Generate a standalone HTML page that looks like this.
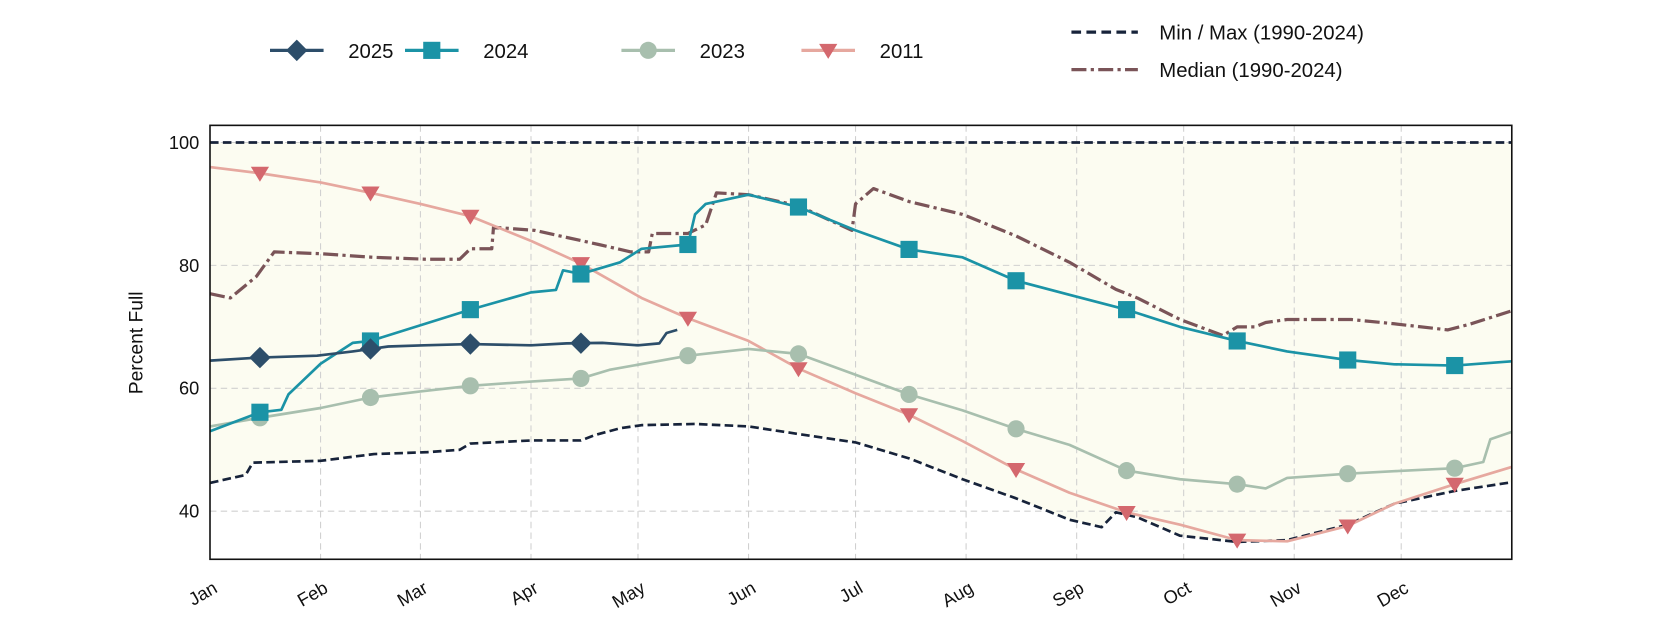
<!DOCTYPE html>
<html><head><meta charset="utf-8"><style>
body{margin:0;background:#fff;font-family:"Liberation Sans",sans-serif;}
svg text{font-family:"Liberation Sans",sans-serif;fill:#111;}
</style></head><body>
<svg id="chart" width="1680" height="630" viewBox="0 0 1568 588" xmlns="http://www.w3.org/2000/svg">
<g id="legend"></g>
<g id="plot"></g>
</svg>
<script>
const monthLabels=["Jan","Feb","Mar","Apr","May","Jun","Jul","Aug","Sep","Oct","Nov","Dec"];
const monthStartDays=[0,31,59,90,120,151,181,212,243,273,304,334];
const yTicks=[40,60,80,100];
const markerDays=[14,45,73,104,134,165,196,226,257,288,319,349];
const d2025=[0,14,30,40,50,60,73,90,100,110,120,126,128,131];
const v2025=[64.5,65,65.3,66,66.8,67,67.2,67,67.3,67.4,67,67.3,69,69.5];
const d2024=[0,14,20,22,31,40,45,73,90,97,99,104,115,121,134,136,139,151,165,181,196,211,226,241,257,272,288,302,319,332,349,365];
const v2024=[53,56.1,56.5,59,64,67.4,67.7,72.8,75.6,76,79.2,78.6,80.5,82.7,83.4,88.3,90,91.5,89.5,85.7,82.6,81.3,77.5,75.2,72.8,70,67.7,66,64.6,63.9,63.7,64.4];
const d2023=[0,14,31,45,59,73,90,104,112,134,151,165,181,196,211,226,241,257,272,288,296,302,319,332,349,357,359,365];
const v2023=[53.8,55.2,56.8,58.5,59.5,60.4,61.1,61.6,63,65.3,66.4,65.6,62.2,59,56.4,53.4,50.8,46.6,45.2,44.4,43.7,45.4,46.1,46.5,47,48,51.7,52.9];
const d2011=[0,14,31,45,59,73,90,104,121,134,151,165,181,196,211,226,241,257,272,288,302,319,332,349,365];
const v2011=[96,95,93.5,91.8,90,88,84,80.3,74.7,71.4,67.7,63.2,59.2,55.7,51.4,46.8,43,39.8,37.8,35.3,35.1,37.6,41.2,44.4,47.2];
const dMin=[0,10,12,31,46,61,70,73,90,104,108,115,121,136,151,169,181,196,211,226,241,250,254,260,272,288,302,319,332,349,365];
const vMin=[44.6,45.9,47.9,48.2,49.3,49.6,50,51,51.5,51.5,52.4,53.5,54,54.2,53.8,52.2,51.2,48.6,45.2,42.1,38.6,37.4,39.8,39,36,35,35.3,37.8,41.2,43.3,44.7];
const dMed=[0,5.7,13,18,31,46,61,70,73,79,79.5,91,109,118,123,124,134,139,142,151,165,180,181,186,196,211,226,241,254,260,272,284,288,293,296,302,320,332,347,353,365];
const vMed=[75.4,74.7,78.2,82.2,81.9,81.3,81,81,82.7,82.7,86.2,85.7,83.4,82.2,82.2,85.2,85.2,86.6,91.8,91.5,89.7,85.7,90,92.5,90.4,88.3,84.8,80.5,76.1,74.7,71.2,68.6,70,70,70.7,71.2,71.2,70.5,69.5,70.4,72.6];
const maxVal=100;

const NS="http://www.w3.org/2000/svg";
const L=196,R=1411,T=117,B=522;
const x=d=>L+d*(R-L)/365;
const y=v=>133+(100-v)*5.735;
function mk(tag,attrs,parent){const e=document.createElementNS(NS,tag);for(const k in attrs)e.setAttribute(k,attrs[k]);parent.appendChild(e);return e;}
const plot=document.getElementById('plot');
const leg=document.getElementById('legend');
function interp(ds,vs,d){for(let i=1;i<ds.length;i++){if(d<=ds[i]){const t=(d-ds[i-1])/(ds[i]-ds[i-1]);return vs[i-1]+t*(vs[i]-vs[i-1]);}}return vs[vs.length-1];}
function pts(ds,vs){return ds.map((d,i)=>x(d).toFixed(1)+','+y(vs[i]).toFixed(1)).join(' ');}

let bg=mk('rect',{x:L,y:T,width:R-L,height:B-T,fill:'#fff'},plot);


let band=mk('polygon',{points:pts(dMin,vMin)+' '+x(365)+','+y(maxVal)+' '+x(0)+','+y(maxVal),fill:'#fcfcf1'},plot);


monthStartDays.forEach((d,i)=>{
  if(i>0){let g=mk('line',{x1:x(d),x2:x(d),y1:T,y2:B,stroke:'#d0d0d0','stroke-dasharray':'6,4','stroke-width':1},plot);
  
  }
  let t=mk('text',{x:x(d)+8,y:B+30,'font-size':17,'text-anchor':'end',transform:`rotate(-30 ${x(d)+8} ${B+30})`},plot);
  t.textContent=monthLabels[i];
  
  
});
yTicks.forEach(v=>{
  let g=mk('line',{x1:L,x2:R,y1:y(v),y2:y(v),stroke:'#d0d0d0','stroke-dasharray':'6,4','stroke-width':1},plot);
  
  
  let t=mk('text',{x:L-10,y:y(v)+6,'font-size':17,'text-anchor':'end'},plot);
  t.textContent=v;
  
  
});
let yt=mk('text',{x:133,y:320,'font-size':18,'text-anchor':'middle',transform:'rotate(-90 133 320)'},plot);
yt.textContent='Percent Full';



function line(ds,vs,color,w,dash,name){
  let p=mk('polyline',{points:pts(ds,vs),fill:'none',stroke:color,'stroke-width':w,'stroke-linejoin':'round'},plot);
  if(dash)p.setAttribute('stroke-dasharray',dash);
  
  
}
function marker(shape,cx,cy,color,parent,s){
  let e;
  if(shape==='diamond')e=mk('polygon',{points:`${cx},${cy-s} ${cx+s},${cy} ${cx},${cy+s} ${cx-s},${cy}`,fill:color},parent);
  else if(shape==='square')e=mk('rect',{x:cx-s*0.8,y:cy-s*0.8,width:s*1.6,height:s*1.6,fill:color},parent);
  else if(shape==='circle')e=mk('circle',{cx:cx,cy:cy,r:s*0.8,fill:color},parent);
  else e=mk('polygon',{points:`${cx-s*0.85},${cy-s*0.6} ${cx+s*0.85},${cy-s*0.6} ${cx},${cy+s*0.8}`,fill:color},parent);
  return e;
}
line(dMin,vMin,'#17233a',2.5,'8,4','min-line');
let mx=mk('line',{x1:L,x2:R,y1:y(maxVal),y2:y(maxVal),stroke:'#17233a','stroke-width':2.5,'stroke-dasharray':'8,4'},plot);


line(dMed,vMed,'#7a5458',3,'14,4,3,4','median-line');
const series=[
 {d:d2011,v:v2011,c:'#e6a89f',m:'#d4686e',shape:'tri',name:'2011'},
 {d:d2023,v:v2023,c:'#a8bfae',m:'#a8bfae',shape:'circle',name:'2023'},
 {d:d2024,v:v2024,c:'#1b93a6',m:'#1b93a6',shape:'square',name:'2024'},
 {d:d2025,v:v2025,c:'#2d4e6a',m:'#2d4e6a',shape:'diamond',name:'2025'}
];
series.forEach(s=>{
  line(s.d,s.v,s.c,2.5,null,'line-'+s.name);
  markerDays.forEach(md=>{
    if(md>s.d[s.d.length-1])return;
    let e=marker(s.shape,x(md),y(interp(s.d,s.v,md)),s.m,plot,10);
    
    
  });
});
let fr=mk('rect',{x:L,y:T,width:R-L,height:B-T,fill:'none',stroke:'#111','stroke-width':1.5},plot);



const legItems=[{n:'2025',c:'#2d4e6a',s:'diamond',x:252},{n:'2024',c:'#1b93a6',s:'square',x:378},{n:'2023',c:'#a8bfae',s:'circle',x:580},{n:'2011',c:'#d4686e',lc:'#e6a89f',s:'tri',x:748}];
legItems.forEach(it=>{
  let l=mk('line',{x1:it.x,x2:it.x+50,y1:47,y2:47,stroke:it.lc||it.c,'stroke-width':3},leg);
  
  
  let m=marker(it.s,it.x+25,47,it.c,leg,10);
  
  
  let t=mk('text',{x:it.x+73,y:54,'font-size':19},leg);
  t.textContent=it.n;
  
  
});
let l1=mk('line',{x1:1000,x2:1062,y1:30,y2:30,stroke:'#17233a','stroke-width':3,'stroke-dasharray':'9,5'},leg);


let t1=mk('text',{x:1082,y:37,'font-size':19},leg);
t1.textContent='Min / Max (1990-2024)';


let l2=mk('line',{x1:1000,x2:1062,y1:65,y2:65,stroke:'#7a5458','stroke-width':3,'stroke-dasharray':'14,4,3,4'},leg);


let t2=mk('text',{x:1082,y:72,'font-size':19},leg);
t2.textContent='Median (1990-2024)';


</script>
</body></html>
